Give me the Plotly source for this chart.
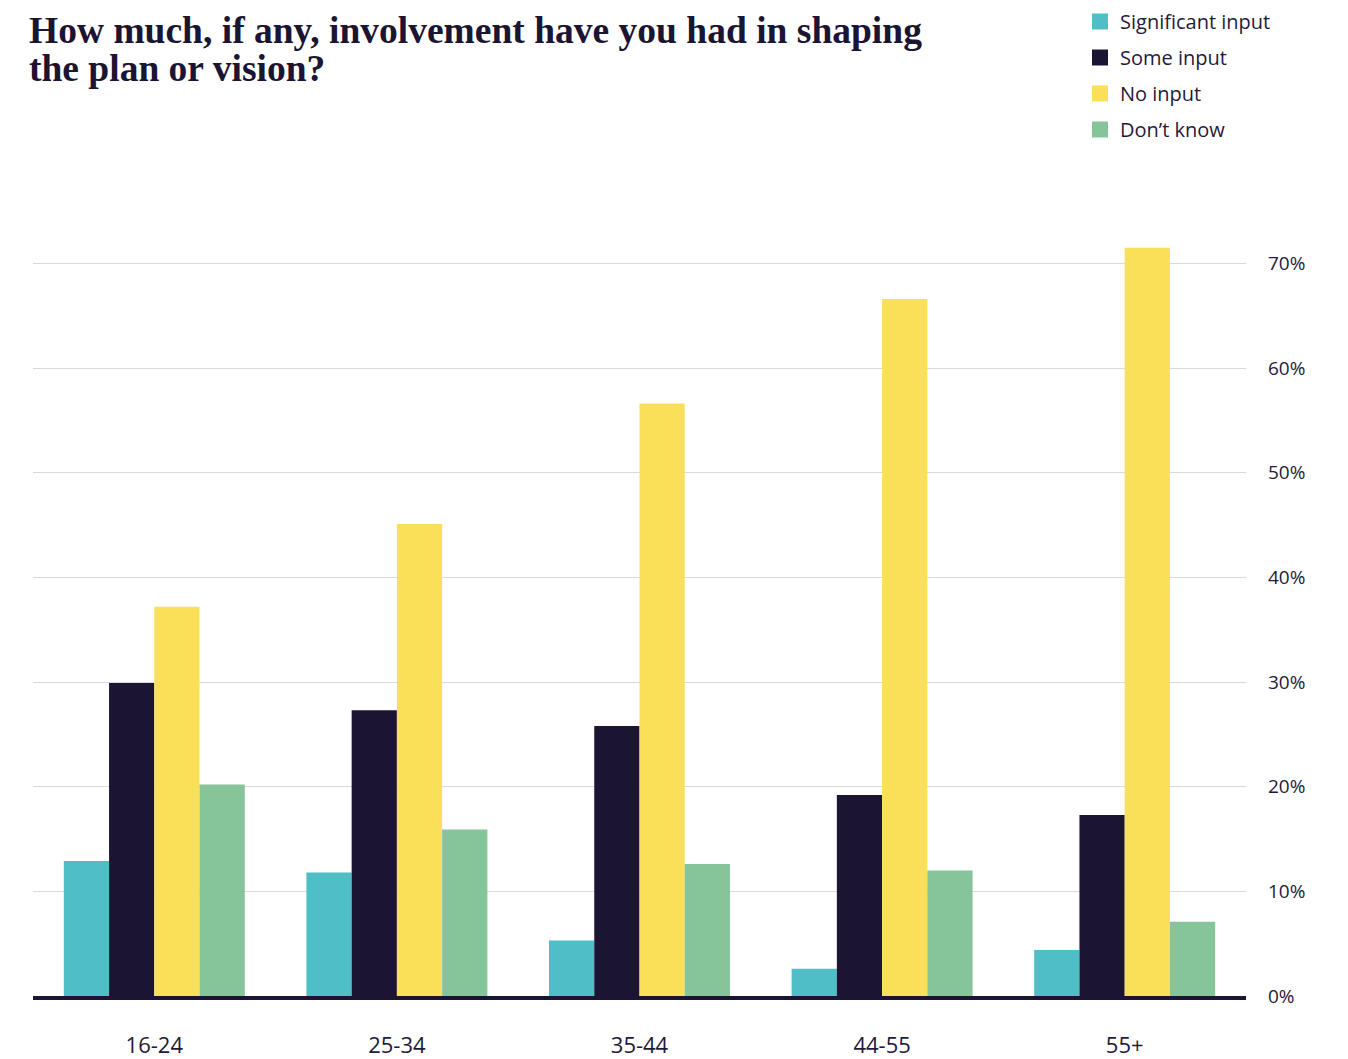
import plotly.graph_objects as go

categories = ["16-24", "25-34", "35-44", "44-55", "55+"]
series_names = ["Significant input", "Some input", "No input", "Don’t know"]
significant = [12.9, 11.8, 5.3, 2.6, 4.4]
some = [29.9, 27.3, 25.8, 19.2, 17.3]
no_input = [37.2, 45.1, 56.6, 66.6, 71.5]
dont_know = [20.2, 15.9, 12.6, 12.0, 7.1]
y_ticks = [0, 10, 20, 30, 40, 50, 60, 70]
y_tick_labels = ["0%", "10%", "20%", "30%", "40%", "50%", "60%", "70%"]
title_lines = ["How much, if any, involvement have you had in shaping", "the plan or vision?"]

colors = ["#4FBEC7", "#1B1433", "#FADF58", "#86C499"]
text_color = "#1F1A3A"
values = [significant, some, no_input, dont_know]

fig = go.Figure()
for name, vals, col in zip(series_names, values, colors):
    fig.add_trace(go.Bar(x=categories, y=vals, name=name, marker=dict(color=col, line=dict(width=0)),
                         showlegend=False))
for i, (name, col) in enumerate(zip(series_names, colors)):
    fig.add_trace(go.Scatter(x=[None], y=[None], mode="markers", name=name,
                             marker=dict(symbol="square", size=16, color=col),
                             legendgroup=f"g{i}", showlegend=True))

annotations = []
for i, line in enumerate(title_lines):
    annotations.append(dict(text=line, xref="paper", yref="paper", x=0, y=1,
                            xshift=-6, yshift=203 - 38 * i,
                            xanchor="left", yanchor="top", align="left", showarrow=False,
                            font=dict(family="Liberation Serif", size=37.5, weight="bold", color="#1B1433")))

plot_h = 1059 - 203 - 71
fig.update_layout(
    width=1348, height=1059,
    margin=dict(l=25, r=110, t=203, b=71, autoexpand=False),
    paper_bgcolor="white", plot_bgcolor="white",
    barmode="group", bargap=0.254, bargroupgap=0,
    font=dict(family="Open Sans", color=text_color),
    legend=dict(xref="container", yref="paper", x=1072/1348, y=1 + (203 + 6) / plot_h,
                xanchor="left", yanchor="top", font=dict(size=20, color=text_color),
                tracegroupgap=7, itemsizing="trace", bgcolor="rgba(0,0,0,0)"),
    xaxis=dict(showline=True, linewidth=4, linecolor="#1B1433", showgrid=False,
               tickfont=dict(size=22, color=text_color), ticklabelstandoff=27, ticks=""),
    yaxis=dict(side="right", range=[0, 75], tickvals=y_ticks, ticktext=y_tick_labels,
               showgrid=True, gridcolor="#D9D9D9", gridwidth=1, zeroline=False,
               tickfont=dict(size=19, color=text_color), ticklabelstandoff=21, ticks=""),
    annotations=annotations,
)

fig.write_html("out.html")
